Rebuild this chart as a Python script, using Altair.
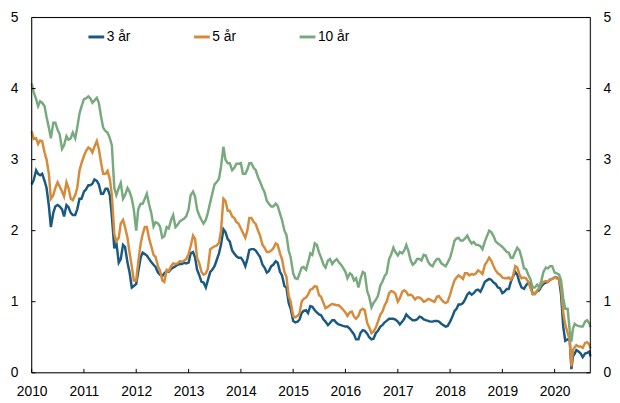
import altair as alt
import pandas as pd

FONT = "Liberation Sans, Arial, sans-serif"

names = ["3 år", "5 år", "10 år"]
colors = ["#1b5a80", "#d68b3b", "#78aa7d"]

dates = []
for yr in range(2010, 2020):
    for mo in range(1, 13):
        dates.append(f"{yr}-{mo:02d}-01")
        dates.append(f"{yr}-{mo:02d}-15")
dates_2020 = ["2020-01-01", "2020-01-15", "2020-02-01", "2020-02-15", "2020-03-01",
              "2020-03-15", "2020-04-01", "2020-04-15", "2020-04-27", "2020-05-08",
              "2020-05-20", "2020-06-01", "2020-06-15", "2020-07-01", "2020-07-15",
              "2020-08-01", "2020-08-15", "2020-09-01", "2020-09-06"]
dates = dates + dates_2020

y3 = [
    2.65, 2.71, 2.85, 2.80, 2.78, 2.80, 2.70, 2.60, 2.35, 2.05, 2.25, 2.34, 2.36, 2.34, 2.30, 2.20, 2.36, 2.33, 2.25, 2.22, 2.22, 2.30, 2.45, 2.45,
    2.55, 2.58, 2.64, 2.64, 2.66, 2.72, 2.70, 2.65, 2.52, 2.52, 2.59, 2.59, 2.50, 2.20, 1.75, 1.84, 1.55, 1.60, 1.80, 1.77, 1.55, 1.42, 1.20, 1.22,
    1.25, 1.42, 1.62, 1.69, 1.67, 1.65, 1.60, 1.56, 1.52, 1.49, 1.41, 1.38, 1.36, 1.40, 1.43, 1.42, 1.46, 1.48, 1.50, 1.52, 1.53, 1.53, 1.55, 1.54,
    1.55, 1.68, 1.70, 1.62, 1.45, 1.38, 1.28, 1.27, 1.20, 1.30, 1.42, 1.45, 1.50, 1.58, 1.68, 1.80, 2.02, 1.98, 1.88, 1.85, 1.72, 1.68, 1.64, 1.62,
    1.62, 1.58, 1.50, 1.60, 1.73, 1.74, 1.74, 1.72, 1.67, 1.63, 1.52, 1.48, 1.41, 1.43, 1.50, 1.52, 1.57, 1.55, 1.42, 1.37, 1.22, 1.20, 0.98, 0.90,
    0.73, 0.71, 0.72, 0.75, 0.84, 0.87, 0.88, 0.84, 0.94, 0.93, 0.88, 0.85, 0.82, 0.81, 0.75, 0.72, 0.67, 0.70, 0.74, 0.74, 0.70, 0.68, 0.67, 0.66,
    0.65, 0.65, 0.62, 0.58, 0.54, 0.47, 0.47, 0.56, 0.60, 0.59, 0.55, 0.50, 0.47, 0.48, 0.56, 0.59, 0.65, 0.67, 0.71, 0.73, 0.76, 0.76, 0.76, 0.75,
    0.72, 0.68, 0.72, 0.76, 0.82, 0.79, 0.76, 0.74, 0.74, 0.75, 0.79, 0.78, 0.75, 0.74, 0.73, 0.72, 0.72, 0.73, 0.73, 0.72, 0.69, 0.67, 0.65, 0.66,
    0.72, 0.78, 0.87, 0.90, 0.96, 0.96, 0.98, 1.03, 1.10, 1.13, 1.10, 1.12, 1.16, 1.17, 1.14, 1.20, 1.28, 1.30, 1.32, 1.31, 1.27, 1.25, 1.20, 1.19,
    1.12, 1.14, 1.18, 1.18, 1.28, 1.35, 1.42, 1.38, 1.27, 1.20, 1.18, 1.23, 1.27, 1.26, 1.11, 1.11, 1.15, 1.16, 1.22, 1.25, 1.27, 1.28, 1.31, 1.32,
    1.34, 1.34, 1.31, 1.10, 0.65, 0.45, 0.47, 0.48, 0.05, 0.23, 0.27, 0.32, 0.30, 0.27, 0.22, 0.27, 0.28, 0.30, 0.23,
]
y5 = [
    3.40, 3.29, 3.30, 3.22, 3.27, 3.26, 3.10, 3.00, 2.80, 2.45, 2.50, 2.60, 2.68, 2.62, 2.55, 2.48, 2.68, 2.60, 2.45, 2.43, 2.50, 2.60, 2.85, 2.95,
    3.05, 3.12, 3.17, 3.15, 3.10, 3.18, 3.26, 3.15, 2.95, 2.80, 2.80, 2.84, 2.72, 2.50, 1.95, 1.85, 1.90, 2.10, 2.15, 2.05, 1.90, 1.70, 1.50, 1.30,
    1.30, 1.55, 1.82, 1.95, 2.05, 2.05, 1.88, 1.78, 1.66, 1.63, 1.50, 1.44, 1.30, 1.28, 1.45, 1.43, 1.50, 1.54, 1.53, 1.54, 1.57, 1.56, 1.58, 1.60,
    1.67, 1.78, 1.93, 1.88, 1.62, 1.55, 1.42, 1.38, 1.40, 1.46, 1.74, 1.76, 1.78, 1.79, 1.83, 2.00, 2.45, 2.42, 2.28, 2.28, 2.20, 2.18, 2.12, 2.10,
    2.03, 1.97, 1.90, 2.00, 2.18, 2.18, 2.12, 2.09, 2.00, 1.93, 1.80, 1.76, 1.70, 1.70, 1.72, 1.75, 1.82, 1.80, 1.68, 1.60, 1.42, 1.35, 1.08, 1.00,
    0.80, 0.78, 0.80, 0.84, 1.00, 1.04, 1.06, 1.10, 1.17, 1.18, 1.22, 1.21, 1.09, 1.07, 0.98, 0.91, 0.93, 0.95, 0.97, 0.96, 0.95, 0.95, 0.92, 0.89,
    0.85, 0.80, 0.85, 0.86, 0.79, 0.76, 0.80, 0.88, 0.90, 0.88, 0.70, 0.64, 0.56, 0.58, 0.64, 0.72, 0.82, 0.86, 0.95, 1.00, 1.12, 1.15, 1.14, 1.11,
    1.00, 1.05, 1.14, 1.16, 1.14, 1.09, 1.10, 1.08, 1.03, 1.06, 1.06, 1.04, 1.00, 1.01, 1.04, 1.03, 1.01, 1.00, 1.07, 1.08, 1.03, 1.00, 0.98, 1.00,
    1.10, 1.20, 1.30, 1.34, 1.37, 1.35, 1.32, 1.40, 1.40, 1.37, 1.39, 1.38, 1.40, 1.44, 1.42, 1.39, 1.52, 1.56, 1.62, 1.58, 1.50, 1.44, 1.40, 1.38,
    1.34, 1.33, 1.33, 1.34, 1.31, 1.35, 1.50, 1.48, 1.38, 1.33, 1.34, 1.33, 1.28, 1.20, 1.11, 1.11, 1.16, 1.19, 1.25, 1.28, 1.29, 1.28, 1.31, 1.32,
    1.34, 1.33, 1.32, 1.20, 0.85, 0.68, 0.56, 0.46, 0.09, 0.32, 0.36, 0.39, 0.37, 0.37, 0.35, 0.42, 0.43, 0.39, 0.34,
]
y10 = [
    4.07, 3.95, 3.85, 3.75, 3.82, 3.80, 3.75, 3.60, 3.45, 3.30, 3.52, 3.52, 3.42, 3.36, 3.15, 3.20, 3.33, 3.28, 3.30, 3.38, 3.30, 3.45, 3.65, 3.75,
    3.85, 3.86, 3.89, 3.86, 3.80, 3.83, 3.87, 3.80, 3.60, 3.45, 3.40, 3.38, 3.30, 3.20, 2.60, 2.50, 2.60, 2.67, 2.45, 2.50, 2.60, 2.55, 2.45, 2.30,
    2.00, 2.30, 2.38, 2.38, 2.45, 2.52, 2.36, 2.25, 2.06, 2.12, 2.10, 2.06, 1.90, 1.92, 2.05, 2.03, 2.15, 2.22, 2.05, 2.08, 2.13, 2.15, 2.17, 2.20,
    2.30, 2.50, 2.55, 2.48, 2.30, 2.22, 2.15, 2.10, 2.15, 2.25, 2.40, 2.52, 2.65, 2.68, 2.73, 2.90, 3.18, 3.00, 2.95, 2.95, 2.85, 2.88, 2.94, 2.94,
    2.95, 2.80, 2.80, 2.86, 2.95, 2.95, 2.88, 2.85, 2.75, 2.69, 2.60, 2.54, 2.42, 2.38, 2.34, 2.34, 2.38, 2.35, 2.24, 2.15, 2.00, 1.94, 1.72, 1.62,
    1.40, 1.33, 1.32, 1.40, 1.48, 1.49, 1.45, 1.55, 1.68, 1.66, 1.82, 1.80, 1.69, 1.62, 1.52, 1.48, 1.58, 1.60, 1.53, 1.57, 1.60, 1.56, 1.52, 1.48,
    1.42, 1.33, 1.40, 1.38, 1.30, 1.33, 1.20, 1.32, 1.42, 1.40, 1.15, 1.07, 0.92, 0.98, 1.03, 1.08, 1.23, 1.28, 1.36, 1.40, 1.60, 1.66, 1.76, 1.70,
    1.65, 1.70, 1.68, 1.72, 1.80, 1.72, 1.58, 1.52, 1.55, 1.60, 1.60, 1.58, 1.66, 1.65, 1.56, 1.52, 1.50, 1.56, 1.60, 1.60, 1.54, 1.52, 1.50, 1.55,
    1.62, 1.72, 1.86, 1.89, 1.90, 1.86, 1.86, 1.89, 1.93, 1.87, 1.82, 1.84, 1.80, 1.80, 1.78, 1.74, 1.85, 1.92, 2.00, 1.98, 1.92, 1.85, 1.82, 1.80,
    1.77, 1.74, 1.70, 1.69, 1.62, 1.62, 1.70, 1.76, 1.72, 1.62, 1.47, 1.46, 1.38, 1.32, 1.20, 1.20, 1.24, 1.20, 1.30, 1.42, 1.48, 1.47, 1.50, 1.50,
    1.41, 1.40, 1.38, 1.30, 1.05, 0.90, 0.90, 0.60, 0.44, 0.62, 0.69, 0.67, 0.66, 0.65, 0.65, 0.72, 0.74, 0.69, 0.64,
]

year_ticks = list(range(2010, 2021))
y_ticks = [0, 1, 2, 3, 4, 5]
x_start, x_end = "2010-01-01T00:00:00", "2020-09-06T00:00:00"

W, H = 566, 360

rows = []
for name, vals in zip(names, [y3, y5, y10]):
    for d, v in zip(dates, vals):
        rows.append({"date": d + "T00:00:00", "serie": name, "value": v})
df = pd.DataFrame(rows)

xscale = alt.Scale(domain=[alt.DateTime(year=2010, month=1, date=1),
                           alt.DateTime(year=2020, month=9, date=6)], nice=False)
yscale = alt.Scale(domain=[0, 5], nice=False, zero=False)

common = dict(title=None, grid=False, labelFontSize=14, labelFont=FONT,
              labelColor="black", labelFlush=False, domain=False, ticks=False)
xaxis = alt.Axis(values=[alt.DateTime(year=y, month=1, date=1) for y in year_ticks],
                 format="%Y", labelPadding=12, labelOverlap=False, **common)
yaxis_left = alt.Axis(values=y_ticks, orient="left", labelPadding=14, **common)
yaxis_right = alt.Axis(values=y_ticks, orient="right", labelPadding=13, **common)

legend = alt.Legend(title=None, orient="none", legendX=56, legendY=10,
                    direction="horizontal", symbolType="stroke", symbolSize=256,
                    symbolStrokeWidth=3, labelFontSize=14, labelFont=FONT,
                    labelColor="black", columnPadding=50, gridAlign="all",
                    labelOffset=1, padding=0, offset=0)

lines = alt.Chart(df).mark_line(strokeWidth=2.5).encode(
    x=alt.X("date:T", scale=xscale, axis=xaxis),
    y=alt.Y("value:Q", scale=yscale, axis=yaxis_left),
    color=alt.Color("serie:N", scale=alt.Scale(domain=names, range=colors),
                    legend=legend, sort=names),
)

# inward tick marks (about 4 px long), drawn through the chart's scales
tick_x_df = pd.DataFrame({"d": [f"{y}-01-01T00:00:00" for y in year_ticks],
                          "lo": [0.0] * len(year_ticks), "hi": [0.055] * len(year_ticks)})
tick_yl_df = pd.DataFrame({"v": y_ticks, "a": [x_start] * 6, "b": ["2010-01-28T00:00:00"] * 6})
tick_yr_df = pd.DataFrame({"v": y_ticks, "a": ["2020-08-10T00:00:00"] * 6, "b": [x_end] * 6})

xticks = alt.Chart(tick_x_df).mark_rule(color="black", strokeWidth=1).encode(
    x=alt.X("d:T", scale=xscale, axis=xaxis),
    y=alt.Y("lo:Q", scale=yscale, axis=None), y2="hi:Q",
)
yticks_left = alt.Chart(tick_yl_df).mark_rule(color="black", strokeWidth=1).encode(
    x=alt.X("a:T", scale=xscale, axis=xaxis), x2="b:T",
    y=alt.Y("v:Q", scale=yscale, axis=None),
)
yticks_right = alt.Chart(tick_yr_df).mark_rule(color="black", strokeWidth=1).encode(
    x=alt.X("a:T", scale=xscale, axis=xaxis), x2="b:T",
    y=alt.Y("v:Q", scale=yscale, axis=yaxis_right),
)

# plot frame as a closed path along the scale extremes
frame_df = pd.DataFrame({
    "d": [x_start, x_end, x_end, x_start, x_start],
    "v": [0, 0, 5, 5, 0],
    "o": [0, 1, 2, 3, 4],
})
frame = alt.Chart(frame_df).mark_line(color="black", strokeWidth=1).encode(
    x=alt.X("d:T", scale=xscale, axis=xaxis),
    y=alt.Y("v:Q", scale=yscale, axis=None),
    order="o:Q",
)

chart = alt.layer(lines, yticks_right, yticks_left, xticks, frame).resolve_axis(
    y="independent"
).properties(
    width=W, height=H,
    autosize=alt.AutoSizeParams(type="none"),
    padding={"left": 24, "top": 7, "right": 22, "bottom": 26},
).configure(background="white")

chart.save("out.html", embed_options={"renderer": "svg", "actions": False})
